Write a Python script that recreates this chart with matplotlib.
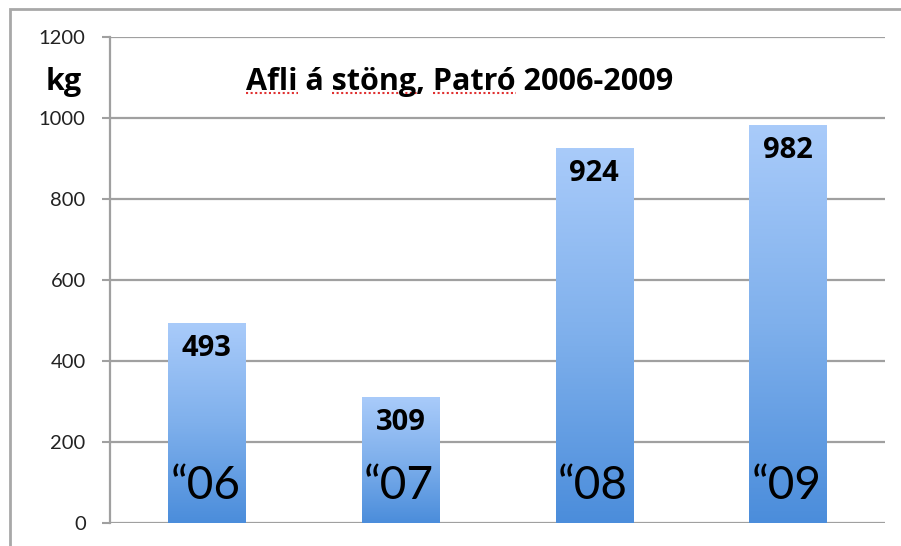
import numpy as np
import matplotlib
matplotlib.use('Agg')
from matplotlib import pyplot as plt
from matplotlib.colors import LinearSegmentedColormap
from matplotlib.patches import Rectangle

plt.rcParams['font.family'] = ['Lato', 'DejaVu Sans']
FEITT = ['Open Sans', 'DejaVu Sans']

# Afli á stöng á Patreksfirði
years = ['\u201c06', '\u201c07', '\u201c08', '\u201c09']
afli = [493, 309, 924, 982]
y_ticks = [0, 200, 400, 600, 800, 1000, 1200]

fig = plt.figure(figsize=(9.01, 5.46), dpi=100)
ax = fig.add_axes([110 / 901, 23 / 546, 775 / 901, 486 / 546])

# rammi utan um myndina
fig.patches.append(Rectangle((10 / 901, -0.1), 1.2, 1.1 - 9 / 546, transform=fig.transFigure,
                             fill=False, edgecolor='#a8a8a8', linewidth=2))

# litur frá ljósbláu efst í dekkri bláan neðst
cmap = LinearSegmentedColormap.from_list('blatt', ['#4b8ddb', '#7fb0ec', '#a9cbfa'])
grad = np.linspace(0, 1, 256).reshape(-1, 1)

x = np.arange(len(afli))
bars = ax.bar(x, afli, width=0.4, color='none', edgecolor='none', zorder=3)
for b, v, ar in zip(bars, afli, years):
    ax.imshow(grad, extent=[b.get_x(), b.get_x() + b.get_width(), 0, b.get_height()],
              origin='lower', aspect='auto', cmap=cmap, zorder=3)
    ax.annotate(str(v), (b.get_x() + b.get_width() / 2, v), xytext=(0, -18),
                textcoords='offset points', ha='center', va='center', family=FEITT,
                fontsize=21, fontweight='bold', color='black', zorder=5)
    ax.annotate(ar, (b.get_x() + b.get_width() / 2, 0), xytext=(-1, 17),
                textcoords='offset points', ha='center', va='baseline',
                fontsize=33, color='black', zorder=5)

ax.set_xlim(-0.5, 3.5)
ax.set_ylim(0, 1200)
ax.set_yticks(y_ticks)
ax.set_yticklabels([str(t) for t in y_ticks], fontsize=14.5, color='#222222')
ax.set_xticks([])
ax.tick_params(axis='y', length=5.5, width=1.5, color='#a0a0a0', pad=12)
ax.yaxis.grid(True, color='#a0a0a0', linewidth=1.6, zorder=1)
ax.set_axisbelow(True)
for s in ['top', 'right', 'bottom']:
    ax.spines[s].set_visible(False)
ax.spines['left'].set_color('#a0a0a0')
ax.spines['left'].set_linewidth(1.6)

fig.text(64 / 901, 1 - 82 / 546, 'kg', fontsize=22, fontweight='bold', family=FEITT,
         ha='center', va='center')

# titill, með rauðu punktalínunum undir orðunum sem villuleitin merkir
titill = 'Afli á stöng, Patró 2006-2009'
STAERD = 22
tx, ty = 460 / 901, 1 - 90 / 546
t = fig.text(tx, ty, titill, fontsize=STAERD, fontweight='bold', family=FEITT,
             ha='center', va='baseline')
fig.canvas.draw()
r = fig.canvas.get_renderer()
bb = t.get_window_extent(r)


def breidd(s):
    tmp = fig.text(0, 0, s, fontsize=STAERD, fontweight='bold', family=FEITT)
    w = tmp.get_window_extent(r).width
    tmp.remove()
    return w


for ord_ in ['Afli', 'stöng', 'Patró']:
    i = titill.index(ord_)
    x0 = bb.x0 + (breidd(titill[:i]) if i > 0 else 0)
    x1 = bb.x0 + breidd(titill[:i + len(ord_)])
    yy = ty * 546 - 3
    fig.add_artist(plt.Line2D([x0 / 901, x1 / 901], [yy / 546, yy / 546], transform=fig.transFigure,
                              color='#e03030', linewidth=1.5, linestyle=(0, (1, 1.2))))

fig.savefig('out.png', dpi=100)
